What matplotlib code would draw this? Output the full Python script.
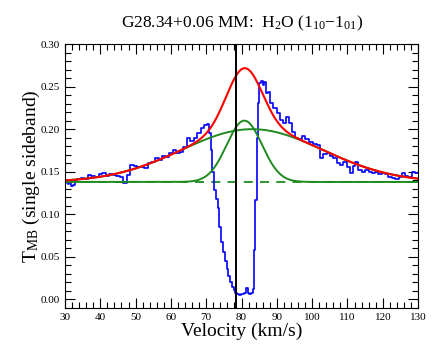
import numpy as np
import matplotlib
matplotlib.use("Agg")
import matplotlib.pyplot as plt
from matplotlib.ticker import MultipleLocator

plt.rcParams['font.family'] = ['Liberation Serif', 'DejaVu Serif']
plt.rcParams['mathtext.fontset'] = 'custom'
plt.rcParams['mathtext.rm'] = 'Liberation Serif'
plt.rcParams['mathtext.it'] = 'Liberation Serif:italic'

# Observed spectrum (blue)
velocity = [30, 30.5, 31, 31.5, 32, 32.5, 33, 34, 35, 36, 37, 38, 39, 40, 41, 42, 43, 44, 45, 46,
            47, 48, 49, 50, 51, 52, 53, 54, 55, 56, 57, 58, 59, 60, 61, 62, 63, 64, 65, 66,
            67, 68, 69, 70, 70.5, 71, 71.5, 72, 72.5, 73, 73.5, 74, 74.5, 75, 75.5, 76, 76.5,
            77, 77.5, 78, 78.5, 79, 79.5, 80, 80.5, 81, 81.5, 82, 82.5, 83, 83.3, 83.7, 84.1,
            84.5, 84.8, 85.2, 85.7, 86.2, 86.7, 87.1, 87.8, 88.5, 89.5, 90.3, 91.4, 92.3, 92.9,
            93.7, 94.6, 95.6, 96.6, 97.4, 98.5, 99.9, 100.8, 101.7, 102.7, 103.7, 104.6, 105.5,
            106.5, 107.4, 108.4, 109.3, 110.2, 111.2, 111.7, 112.6, 113.6, 114.5, 115.5, 116.4,
            117.3, 118.3, 119.2, 120.1, 121.1, 122, 123, 124, 125, 125.8, 126.8, 127.7, 128.6,
            129.6, 130]
tmb = [0.137, 0.139, 0.136, 0.138, 0.133, 0.134, 0.140, 0.141, 0.143, 0.141, 0.146, 0.145, 0.144,
       0.147, 0.148, 0.145, 0.147, 0.146, 0.145, 0.144, 0.137, 0.146, 0.158, 0.157, 0.155, 0.156,
       0.154, 0.160, 0.162, 0.166, 0.164, 0.168, 0.167, 0.172, 0.176, 0.172, 0.173, 0.179, 0.190,
       0.186, 0.190, 0.195, 0.201, 0.205, 0.206, 0.195, 0.175, 0.150, 0.129, 0.118, 0.107, 0.085,
       0.068, 0.056, 0.045, 0.036, 0.027, 0.021, 0.015, 0.011, 0.008, 0.006, 0.005, 0.006, 0.006,
       0.008, 0.013, 0.008, 0.006, 0.007, 0.012, 0.058, 0.117, 0.190, 0.231, 0.254, 0.257, 0.252,
       0.255, 0.243, 0.244, 0.231, 0.225, 0.219, 0.211, 0.207, 0.214, 0.207, 0.197, 0.190, 0.188,
       0.192, 0.188, 0.185, 0.182, 0.181, 0.166, 0.171, 0.172, 0.168, 0.166, 0.160, 0.158, 0.161,
       0.156, 0.149, 0.157, 0.162, 0.152, 0.150, 0.152, 0.150, 0.149, 0.150, 0.147, 0.149, 0.147,
       0.144, 0.143, 0.141, 0.144, 0.149, 0.145, 0.144, 0.150, 0.148, 0.149]

# Fit components
baseline = 0.138
narrow_amp, narrow_cen, narrow_sig = 0.072, 80.8, 5.0
broad_amp, broad_cen, broad_sig = 0.062, 83.0, 20.0
vlsr = 78.5

v = np.linspace(30, 130, 600)
narrow = baseline + narrow_amp * np.exp(-(v - narrow_cen) ** 2 / (2 * narrow_sig ** 2))
broad = baseline + broad_amp * np.exp(-(v - broad_cen) ** 2 / (2 * broad_sig ** 2))
total = narrow + broad - baseline

fig = plt.figure(figsize=(4.36, 3.61), dpi=100)
ax = fig.add_axes([0.149, 0.147, 0.810, 0.731])

green = '#1f8a1f'
ax.plot(v, np.full_like(v, baseline), color=green, lw=1.3, ls=(0, (5, 4)))
ax.plot(velocity, tmb, color='#0000ff', lw=1.2, drawstyle='steps-mid')
ax.plot(v, broad, color=green, lw=1.4)
ax.plot(v, narrow, color=green, lw=1.4)
ax.plot(v, total, color='#ff0000', lw=1.5)
ax.axvline(vlsr, color='black', lw=1.4)

ax.set_xlim(30, 130)
ax.set_ylim(-0.01, 0.30)
ax.xaxis.set_major_locator(MultipleLocator(10))
ax.xaxis.set_minor_locator(MultipleLocator(2))
ax.yaxis.set_major_locator(MultipleLocator(0.05))
ax.yaxis.set_minor_locator(MultipleLocator(0.01))
ax.yaxis.set_major_formatter(matplotlib.ticker.FormatStrFormatter('%.2f'))
ax.tick_params(which='both', direction='in', top=True, right=True, labelsize=8, width=0.8)
ax.tick_params(which='major', length=7)
ax.tick_params(which='minor', length=4)
for s in ax.spines.values():
    s.set_linewidth(0.8)

ax.set_xlabel('Velocity (km/s)', fontsize=14, labelpad=1)
ax.set_ylabel(r'T$_{\rm MB}$ (single sideband)', fontsize=14, labelpad=-1)
ax.set_title(r'G28.34+0.06 MM:  H$_2$O (1$_{10}$$-$1$_{01}$)', fontsize=12.5, pad=12)

fig.savefig('out.png', dpi=100)
